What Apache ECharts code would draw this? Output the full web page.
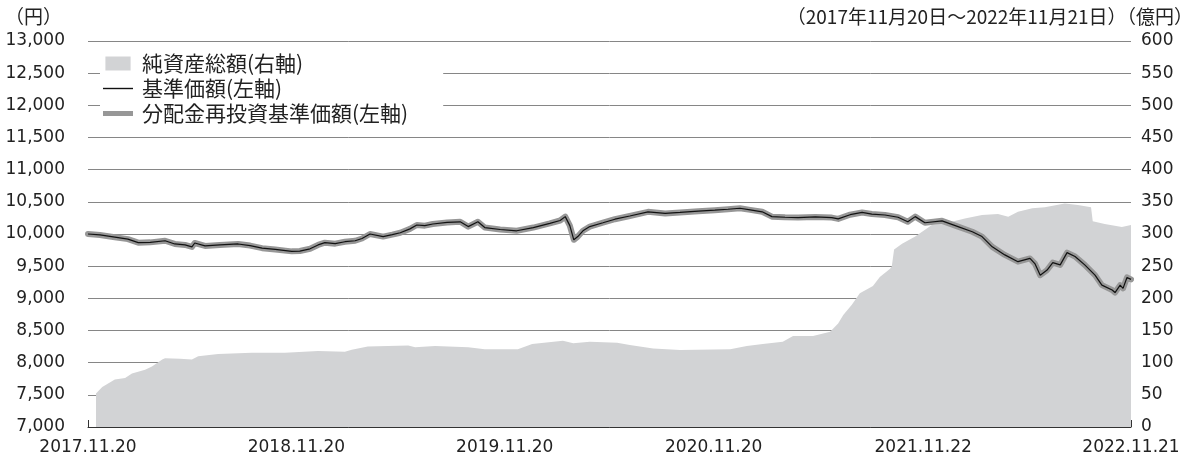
<!DOCTYPE html>
<html>
<head>
<meta charset="utf-8">
<script src="https://cdn.jsdelivr.net/npm/echarts@6/dist/echarts.min.js"></script>
<style>
html,body{margin:0;padding:0;background:#fff;}
#chart{width:1196px;height:461px;}
</style>
</head>
<body>
<div id="chart"></div>
<script>
// ---- data ----
const priceDates = ['2017-11-20','2017-12-11','2018-01-06','2018-01-29','2018-02-16','2018-03-09','2018-04-04','2018-04-21','2018-05-09','2018-05-21','2018-05-26','2018-06-13','2018-07-09','2018-08-10','2018-08-31','2018-09-21','2018-10-14','2018-11-12','2018-11-26','2018-12-14','2018-12-28','2019-01-09','2019-01-27','2019-02-13','2019-03-03','2019-03-15','2019-03-29','2019-04-21','2019-05-07','2019-05-21','2019-06-07','2019-06-19','2019-07-03','2019-07-17','2019-08-11','2019-09-03','2019-09-17','2019-10-04','2019-10-16','2019-11-12','2019-12-11','2020-01-09','2020-02-07','2020-02-25','2020-03-05','2020-03-13','2020-03-20','2020-03-27','2020-04-05','2020-04-17','2020-05-10','2020-05-31','2020-06-26','2020-07-28','2020-08-27','2020-09-22','2020-10-24','2020-11-22','2020-12-15','2021-01-05','2021-01-23','2021-02-13','2021-03-02','2021-03-25','2021-04-17','2021-05-17','2021-06-15','2021-06-26','2021-07-17','2021-08-07','2021-08-24','2021-09-16','2021-10-09','2021-10-26','2021-11-08','2021-11-25','2021-12-25','2022-01-22','2022-02-16','2022-03-05','2022-03-23','2022-04-14','2022-05-07','2022-05-28','2022-06-06','2022-06-15','2022-06-27','2022-07-07','2022-07-20','2022-08-01','2022-08-15','2022-09-01','2022-09-19','2022-10-01','2022-10-19','2022-10-24','2022-11-02','2022-11-07','2022-11-14','2022-11-21'];
const basePrice = [10000,9985,9950,9920,9865,9870,9895,9845,9830,9800,9860,9815,9830,9845,9820,9780,9760,9730,9735,9770,9830,9865,9850,9880,9895,9930,10000,9960,9990,10020,10080,10140,10130,10155,10180,10190,10115,10190,10100,10070,10050,10100,10165,10210,10270,10130,9910,9960,10050,10115,10175,10230,10280,10345,10320,10335,10355,10370,10385,10400,10375,10345,10270,10260,10255,10265,10255,10235,10300,10335,10310,10295,10260,10190,10270,10175,10205,10115,10035,9960,9800,9675,9570,9620,9535,9360,9440,9555,9520,9710,9650,9520,9360,9205,9130,9090,9205,9155,9325,9295];
// no distributions were paid: the reinvested price coincides with the base price
const reinvestPrice = [10000,9985,9950,9920,9865,9870,9895,9845,9830,9800,9860,9815,9830,9845,9820,9780,9760,9730,9735,9770,9830,9865,9850,9880,9895,9930,10000,9960,9990,10020,10080,10140,10130,10155,10180,10190,10115,10190,10100,10070,10050,10100,10165,10210,10270,10130,9910,9960,10050,10115,10175,10230,10280,10345,10320,10335,10355,10370,10385,10400,10375,10345,10270,10260,10255,10265,10255,10235,10300,10335,10310,10295,10260,10190,10270,10175,10205,10115,10035,9960,9800,9675,9570,9620,9535,9360,9440,9555,9520,9710,9650,9520,9360,9205,9130,9090,9205,9155,9325,9295];

const assetDates = ['2017-12-04','2017-12-15','2018-01-06','2018-01-24','2018-02-05','2018-02-28','2018-03-12','2018-03-30','2018-04-04','2018-04-30','2018-05-21','2018-06-01','2018-07-06','2018-09-03','2018-10-31','2018-12-28','2019-02-13','2019-02-25','2019-03-25','2019-06-04','2019-06-16','2019-07-21','2019-09-17','2019-10-16','2019-12-13','2020-01-07','2020-03-01','2020-03-19','2020-04-17','2020-06-04','2020-06-26','2020-08-06','2020-09-22','2020-12-19','2021-01-17','2021-02-14','2021-03-21','2021-04-08','2021-05-13','2021-06-12','2021-06-26','2021-07-05','2021-07-20','2021-08-03','2021-08-26','2021-09-07','2021-09-25','2021-09-28','2021-10-02','2021-10-16','2021-11-08','2021-11-29','2021-12-07','2022-01-04','2022-02-03','2022-03-05','2022-04-02','2022-04-20','2022-05-07','2022-06-01','2022-06-23','2022-07-28','2022-08-20','2022-09-12','2022-09-15','2022-10-06','2022-11-05','2022-11-21'];
const netAssets = [52,62,74,76,83,89,94,105,107,106,105,110,113.5,115.5,115.5,118,117,120,125,126.5,124,126,124,121,121,129,134,130,132.5,131,127.5,122,119.5,121,126,129,132.5,141.5,141.5,148,161,174,190,208,219,233,246,250,276,285,296,309,314,317.5,324,329.5,331,327,334.5,340,341.5,347.5,345,341.5,320,315.5,311,314];

const tickDates = ['2017-11-20','2018-11-20','2019-11-20','2020-11-20','2021-11-22','2022-11-21'];
const tickLabels = ['2017.11.20','2018.11.20','2019.11.20','2020.11.20','2021.11.22','2022.11.21'];

const seriesNames = ['純資産総額(右軸)','基準価額(左軸)','分配金再投資基準価額(左軸)'];
const leftUnit = '（円）';
const rightTitle = '（2017年11月20日～2022年11月21日）（億円）';

// ---- helpers ----
function ts(s){const p=s.split('-').map(Number);return Date.UTC(p[0],p[1]-1,p[2]);}
const tickTs = tickDates.map(ts);
const pairs = (ds, vs) => ds.map((d,i)=>[ts(d), vs[i]]);

const numFont = '"DejaVu Sans","Noto Sans CJK JP",sans-serif';
const cjkFont = '"Noto Sans CJK JP","DejaVu Sans",sans-serif';
const txt = '#222';
const areaColor = '#d2d3d5';
const bandColor = '#979797';
const lineColor = '#111';

const chart = echarts.init(document.getElementById('chart'), null, {renderer:'canvas'});
chart.setOption({
  animation:false,
  backgroundColor:'#fff',
  grid:{left:88,right:65,top:41,bottom:34,containLabel:false},
  graphic:[
    {type:'text',left:5,top:7,style:{text:leftUnit,fill:txt,font:'19px '+cjkFont}},
    {type:'text',right:3,top:7,style:{text:rightTitle,fill:txt,font:'19px '+cjkFont}}
  ],
  legend:{
    orient:'vertical',left:100,top:50,
    padding:[3,35,3,3],itemGap:4,itemWidth:30,itemHeight:14,
    backgroundColor:'#fff',symbolKeepAspect:true,
    textStyle:{fontFamily:cjkFont,fontSize:21,color:txt,lineHeight:18,padding:[0,0,0,4]},
    data:[
      {name:seriesNames[0],icon:'path://M0,0H27V15H0Z',itemStyle:{color:areaColor}},
      {name:seriesNames[1],icon:'path://M0,0H28V1.3H0Z',itemStyle:{color:lineColor}},
      {name:seriesNames[2],icon:'path://M0,0H30V5H0Z',itemStyle:{color:bandColor}}
    ]
  },
  xAxis:{
    type:'value',min:tickTs[0],max:tickTs[tickTs.length-1],
    axisLine:{lineStyle:{color:'#333',width:1}},
    axisTick:{show:true,inside:true,length:7,lineStyle:{color:'#333'},customValues:tickTs},
    axisLabel:{
      customValues:tickTs,margin:12,color:txt,fontFamily:numFont,fontSize:17,
      formatter:function(v){let b=0,bd=Infinity;tickTs.forEach((t,i)=>{const d=Math.abs(t-v);if(d<bd){bd=d;b=i;}});return tickLabels[b];}
    },
    splitLine:{show:false}
  },
  yAxis:[
    {type:'value',min:7000,max:13000,interval:500,
     axisLine:{show:false},axisTick:{show:false},
     axisLabel:{margin:23,color:txt,fontFamily:numFont,fontSize:17,formatter:v=>v.toLocaleString('en-US')},
     splitLine:{lineStyle:{color:'#868686',width:1}}},
    {type:'value',min:0,max:600,interval:50,
     axisLine:{show:false},axisTick:{show:false},
     axisLabel:{margin:10,color:txt,fontFamily:numFont,fontSize:17},
     splitLine:{show:false}}
  ],
  series:[
    {name:seriesNames[0],type:'line',yAxisIndex:1,data:pairs(assetDates,netAssets),
     symbol:'none',lineStyle:{width:0,color:areaColor},itemStyle:{color:areaColor},
     areaStyle:{color:areaColor,opacity:1},z:1},
    {name:seriesNames[2],type:'line',yAxisIndex:0,data:pairs(priceDates,reinvestPrice),
     symbol:'none',lineStyle:{width:6,color:bandColor,join:'round',cap:'round'},itemStyle:{color:bandColor},z:2},
    {name:seriesNames[1],type:'line',yAxisIndex:0,data:pairs(priceDates,basePrice),
     symbol:'none',lineStyle:{width:1.2,color:lineColor},itemStyle:{color:lineColor},z:3}
  ]
});
</script>
</body>
</html>
